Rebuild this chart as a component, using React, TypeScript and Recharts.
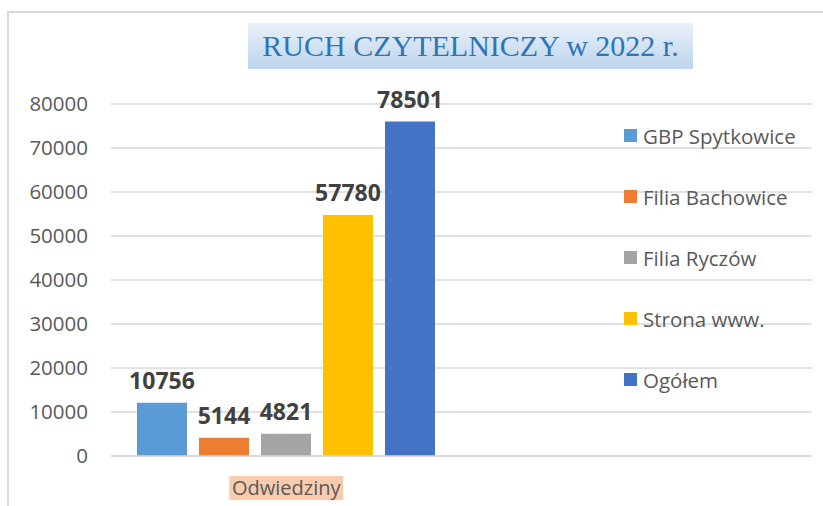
import { Bar, BarChart, CartesianGrid, Legend, XAxis, YAxis } from 'recharts';

const categories = ['Odwiedziny', ''];
const seriesNames = ['GBP Spytkowice', 'Filia Bachowice', 'Filia Ryczów', 'Strona www.', 'Ogółem'];
// bar heights as drawn in the picture
const barValues = [12100, 4150, 5050, 54800, 76000];
// numbers printed above the bars
const labelValues = [10756, 5144, 4821, 57780, 78501];
const colors = ['#5b9bd5', '#ed7d31', '#a5a5a5', '#ffc000', '#4472c4'];
const yTicks = [0, 10000, 20000, 30000, 40000, 50000, 60000, 70000, 80000];

const FONT = '"Open Sans", sans-serif';

const data = categories.map((name, ci) => {
  const row: Record<string, string | number | null> = { name };
  seriesNames.forEach((s, si) => {
    row[s] = ci === 0 ? barValues[si] : null;
  });
  return row;
});

function CategoryTick({ x, y, payload }: any) {
  if (!payload.value) return null;
  const w = 114;
  return (
    <g>
      <rect x={x - w / 2} y={y + 12} width={w} height={24} fill="#f8cbad" />
      <text x={x} y={y + 31} textAnchor="middle" fontSize={20} fill="#595959" fontFamily={FONT}>
        {payload.value}
      </text>
    </g>
  );
}

function renderLegend() {
  return (
    <div style={{ fontFamily: FONT, fontSize: 20.5, color: '#595959' }}>
      {seriesNames.map((s, i) => (
        <div key={s} style={{ height: 61, display: 'flex', alignItems: 'center' }}>
          <span style={{ width: 13, height: 13, background: colors[i], marginRight: 6, display: 'inline-block' }} />
          <span>{s}</span>
        </div>
      ))}
    </div>
  );
}

function makeLabel(si: number) {
  return (props: any) => {
    const { x, y, width, value, index } = props;
    if (value == null || index !== 0) return null;
    return (
      <text
        x={x + width / 2}
        y={y - 14}
        textAnchor="middle"
        fontSize={23}
        fontWeight="bold"
        fill="#404040"
        fontFamily={FONT}
      >
        {labelValues[si]}
      </text>
    );
  };
}

export default function App() {
  return (
    <div style={{ position: 'absolute', left: 0, top: 0, width: 823, height: 506, overflow: 'hidden', background: '#fff' }}>
      <div
        style={{
          position: 'absolute',
          left: 7,
          top: 11,
          width: 840,
          height: 520,
          border: '2px solid #d9d9d9'
        }}
      />
      <BarChart
        width={823}
        height={506}
        data={data}
        margin={{ top: 104, right: 11, bottom: 10, left: 11 }}
        barSize={50}
        barGap={12}
      >
        <CartesianGrid vertical={false} stroke="#d9d9d9" strokeWidth={1.5} />
        <XAxis
          dataKey="name"
          height={40}
          axisLine={{ stroke: '#d9d9d9', strokeWidth: 1.5 }}
          tickLine={false}
          tick={<CategoryTick />}
          interval={0}
        />
        <YAxis
          width={100}
          domain={[0, 80000]}
          ticks={yTicks}
          axisLine={false}
          tickLine={false}
          tickMargin={17}
          tick={{ fontSize: 20.5, fill: '#595959', fontFamily: FONT }}
        />
        <Legend
          layout="vertical"
          align="center"
          verticalAlign="middle"
          wrapperStyle={{ left: 624, top: 105, width: 199 }}
          content={renderLegend}
        />
        {seriesNames.map((s, i) => (
          <Bar key={s} dataKey={s} fill={colors[i]} isAnimationActive={false} label={makeLabel(i)} />
        ))}
      </BarChart>
      <div
        style={{
          position: 'absolute',
          left: 248,
          top: 23,
          width: 445,
          height: 46,
          background: 'linear-gradient(#e9f0f8, #bdd5ee)',
          color: '#2e75b6',
          fontFamily: '"Liberation Serif", serif',
          fontSize: 30,
          lineHeight: '46px',
          textAlign: 'center'
        }}
      >
        RUCH CZYTELNICZY w 2022 r.
      </div>
    </div>
  );
}
